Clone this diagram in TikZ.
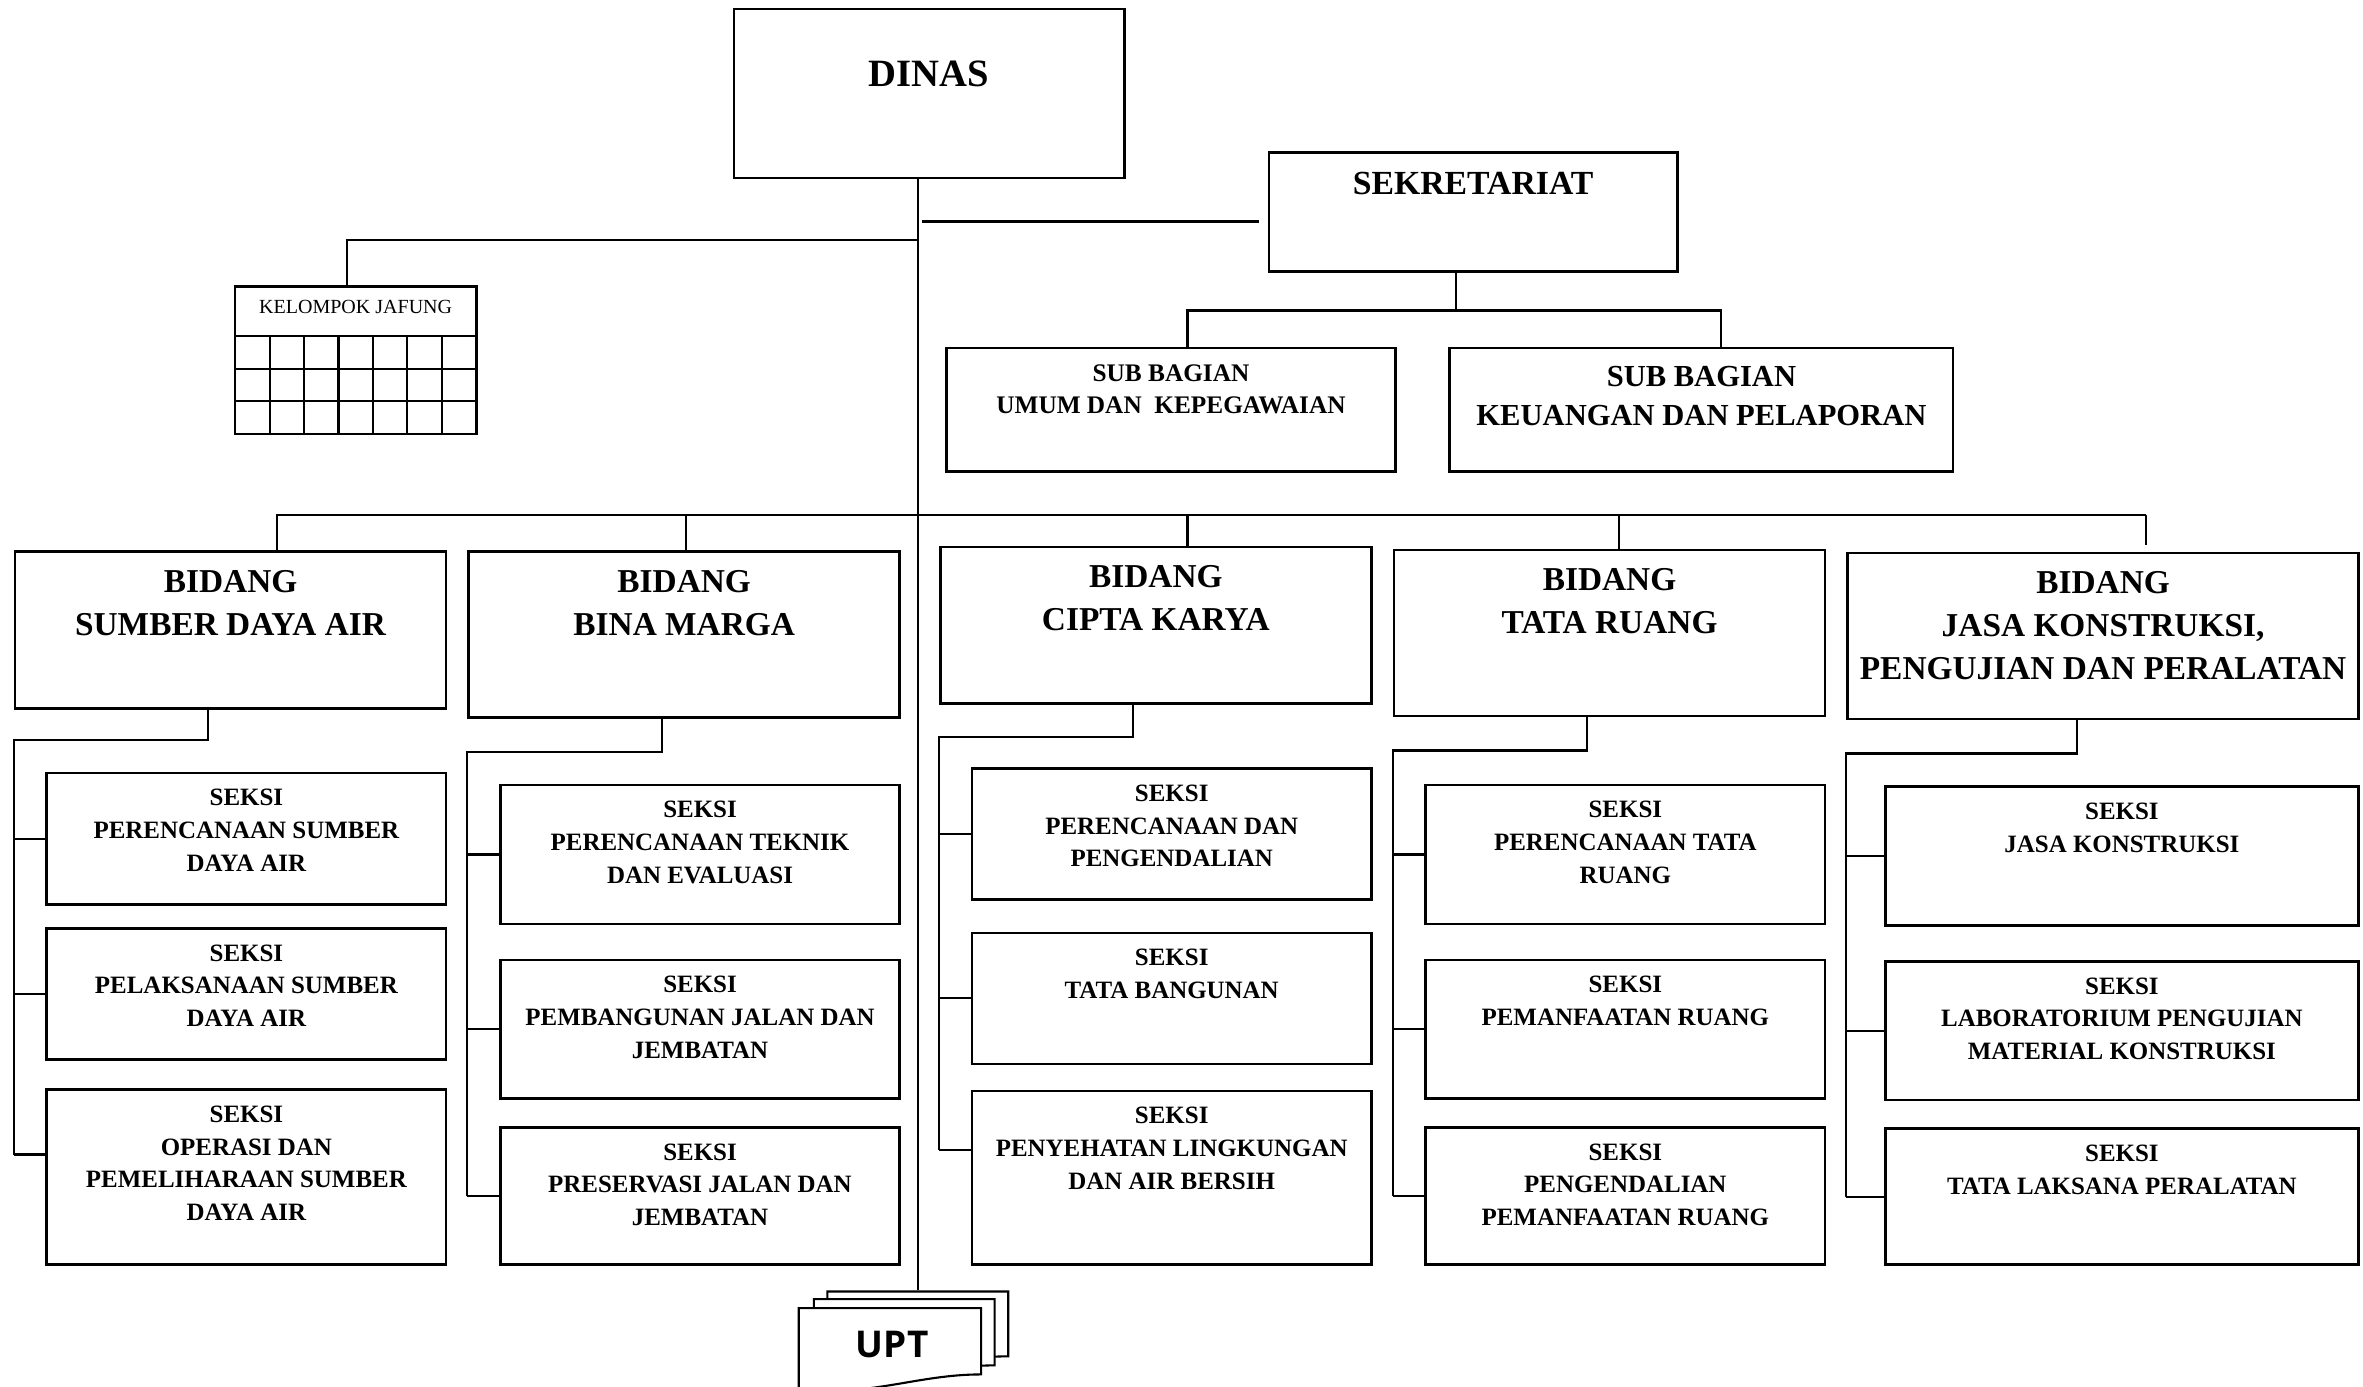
\documentclass[tikz,border=0pt]{standalone}
\usepackage{fontspec}
\setmainfont{Liberation Serif}
\newfontfamily\uptfont{Open Sans}
\usepackage{tikz}
\usetikzlibrary{positioning}
\usetikzlibrary{fit}
\tikzstyle{org_box}=[draw=black, line width=0.75pt, inner sep=0pt]
\tikzstyle{dinas_text}=[font=\fontsize{11}{13}\selectfont\bfseries, align=center, inner sep=0pt]
\tikzstyle{sekr_text}=[font=\fontsize{9.6}{12}\selectfont\bfseries, align=center, inner sep=0pt]
\tikzstyle{bidang_text}=[font=\fontsize{9.5}{12.2}\selectfont\bfseries, align=center, inner sep=0pt]
\tikzstyle{subk_text}=[font=\fontsize{8.7}{11.1}\selectfont\bfseries, align=center, inner sep=0pt]
\tikzstyle{seksi_text}=[font=\fontsize{7.1}{9.3}\selectfont\bfseries, align=center, inner sep=0pt]
\tikzstyle{jafung_text}=[font=\fontsize{5.7}{7}\selectfont, inner sep=0pt]
\tikzstyle{upt_text}=[font=\fontsize{10.5}{12}\uptfont\bfseries, inner sep=0pt]

\begin{document}
\begin{tikzpicture}[x=0.01507cm, y=-0.01507cm, line width=0.6pt]
\useasboundingbox (0,0) rectangle (1568,920);
% pimpinan dan sekretariat
\node[org_box, fit={(487,6) (746,118)}] (dinas) {};
\node[dinas_text, below=14.8pt of dinas.north] (dinast) {DINAS};
\node[org_box, fit={(842,101) (1113,180)}] (sekr) {};
\node[sekr_text, below=5.8pt of sekr.north] (sekrt) {SEKRETARIAT};
\node[org_box, fit={(628,231) (926,313)}] (subu) {};
\node[seksi_text, font=\fontsize{7.2}{9}\selectfont\bfseries, below=4.9pt of subu.north] (subut) {SUB BAGIAN\\UMUM DAN\ \ KEPEGAWAIAN};
\node[org_box, fit={(962,231) (1296,313)}] (subk) {};
\node[subk_text, below=5.3pt of subk.north] (subkt) {SUB BAGIAN\\KEUANGAN DAN PELAPORAN};
% kelompok jabatan fungsional
\node[org_box, fit={(156,190) (316,288)}] (jaf) {};
\node[jafung_text, below=4.1pt of jaf.north] (jaft) {KELOMPOK JAFUNG};
\draw (156,223) -- (316,223) (156,245) -- (316,245) (156,266) -- (316,266);
\draw (178.9,223) -- (178.9,288) (201.7,223) -- (201.7,288) (224.6,223) -- (224.6,288)
      (247.4,223) -- (247.4,288) (270.3,223) -- (270.3,288) (293.1,223) -- (293.1,288);
% bidang
\node[org_box, fit={(10,366) (296,470)}] (bid1) {};
\node[bidang_text, below=5.4pt of bid1.north] (bid1t) {BIDANG\\SUMBER DAYA AIR};
\node[org_box, fit={(311,366) (597,476)}] (bid2) {};
\node[bidang_text, below=5.4pt of bid2.north] (bid2t) {BIDANG\\BINA MARGA};
\node[org_box, fit={(624,363) (910,467)}] (bid3) {};
\node[bidang_text, below=5.4pt of bid3.north] (bid3t) {BIDANG\\CIPTA KARYA};
\node[org_box, fit={(925,365) (1211,475)}] (bid4) {};
\node[bidang_text, below=5.4pt of bid4.north] (bid4t) {BIDANG\\TATA RUANG};
\node[org_box, fit={(1226,367) (1565,477)}] (bid5) {};
\node[bidang_text, below=5.4pt of bid5.north] (bid5t) {BIDANG\\JASA KONSTRUKSI,\\PENGUJIAN DAN PERALATAN};
% seksi
\node[org_box, fit={(31,513) (296,600)}] (sek1a) {};
\node[seksi_text, below=4.7pt of sek1a.north] (sek1at) {SEKSI\\PERENCANAAN SUMBER\\DAYA AIR};
\node[org_box, fit={(31,616) (296,703)}] (sek1b) {};
\node[seksi_text, below=4.7pt of sek1b.north] (sek1bt) {SEKSI\\PELAKSANAAN SUMBER\\DAYA AIR};
\node[org_box, fit={(31,723) (296,839)}] (sek1c) {};
\node[seksi_text, below=4.7pt of sek1c.north] (sek1ct) {SEKSI\\OPERASI DAN\\PEMELIHARAAN SUMBER\\DAYA AIR};
\node[org_box, fit={(332,521) (597,613)}] (sek2a) {};
\node[seksi_text, below=4.7pt of sek2a.north] (sek2at) {SEKSI\\PERENCANAAN TEKNIK\\DAN EVALUASI};
\node[org_box, fit={(332,637) (597,729)}] (sek2b) {};
\node[seksi_text, below=4.7pt of sek2b.north] (sek2bt) {SEKSI\\PEMBANGUNAN JALAN DAN\\JEMBATAN};
\node[org_box, fit={(332,748) (597,839)}] (sek2c) {};
\node[seksi_text, below=4.7pt of sek2c.north] (sek2ct) {SEKSI\\PRESERVASI JALAN DAN\\JEMBATAN};
\node[org_box, fit={(645,510) (910,597)}] (sek3a) {};
\node[seksi_text, below=4.7pt of sek3a.north] (sek3at) {SEKSI\\PERENCANAAN DAN\\PENGENDALIAN};
\node[org_box, fit={(645,619) (910,706)}] (sek3b) {};
\node[seksi_text, below=4.7pt of sek3b.north] (sek3bt) {SEKSI\\TATA BANGUNAN};
\node[org_box, fit={(645,724) (910,839)}] (sek3c) {};
\node[seksi_text, below=4.7pt of sek3c.north] (sek3ct) {SEKSI\\PENYEHATAN LINGKUNGAN\\DAN AIR BERSIH};
\node[org_box, fit={(946,521) (1211,613)}] (sek4a) {};
\node[seksi_text, below=4.7pt of sek4a.north] (sek4at) {SEKSI\\PERENCANAAN TATA\\RUANG};
\node[org_box, fit={(946,637) (1211,729)}] (sek4b) {};
\node[seksi_text, below=4.7pt of sek4b.north] (sek4bt) {SEKSI\\PEMANFAATAN RUANG};
\node[org_box, fit={(946,748) (1211,839)}] (sek4c) {};
\node[seksi_text, below=4.7pt of sek4c.north] (sek4ct) {SEKSI\\PENGENDALIAN\\PEMANFAATAN RUANG};
\node[org_box, fit={(1251,522) (1565,614)}] (sek5a) {};
\node[seksi_text, below=4.7pt of sek5a.north] (sek5at) {SEKSI\\JASA KONSTRUKSI};
\node[org_box, fit={(1251,638) (1565,730)}] (sek5b) {};
\node[seksi_text, below=4.7pt of sek5b.north] (sek5bt) {SEKSI\\LABORATORIUM PENGUJIAN\\MATERIAL KONSTRUKSI};
\node[org_box, fit={(1251,749) (1565,839)}] (sek5c) {};
\node[seksi_text, below=4.7pt of sek5c.north] (sek5ct) {SEKSI\\TATA LAKSANA PERALATAN};
% upt
\node[fit={(530,857) (669,920)}, inner sep=0pt] (upt) {};
\filldraw[fill=white] (549,857) -- (669,857) -- (669,900) .. controls (628,900) and (598,914) .. (549,911) -- cycle;
\filldraw[fill=white] (540,862) -- (660,862) -- (660,906) .. controls (619,906) and (589,920) .. (540,917) -- cycle;
\filldraw[fill=white] (530,868) -- (651,868) -- (651,912) .. controls (610,912) and (580,926) .. (530,923) -- cycle;
\node[upt_text] (uptt) at (592,892) {UPT};
% garis
\coordinate (tr) at (609,118);
\coordinate (sj) at (612,147);
\coordinate (jj) at (609,159);
\coordinate (jd) at (230,159);
\coordinate (sb) at (966,206);
\coordinate (sbl) at (788,206);
\coordinate (sbr) at (1142,206);
\coordinate (u1) at (184,342);
\coordinate (u2) at (455,342);
\coordinate (u3) at (788,342);
\coordinate (u4) at (1074,342);
\coordinate (u5) at (1424,342);
\coordinate (d1) at (138,491);
\coordinate (d2) at (439,499);
\coordinate (d3) at (752,489);
\coordinate (d4) at (1053,498);
\coordinate (d5) at (1378,500);
\coordinate (k1c) at ([yshift=6.4pt]sek1c.west);
\coordinate (k3c) at ([yshift=7.9pt]sek3c.west);
\draw (dinas.south -| tr) -- (upt.north -| tr);
\draw[shorten >=2.5pt] (sj) -- (sj -| sekr.west);
\draw (jj) -- (jd) -- (jd |- jaf.north);
\draw (sb |- sekr.south) -- (sb);
\draw (sbl |- subu.north) -- (sbl) -- (sbr) -- (sbr |- subk.north);
\draw (u1 |- bid1.north) -- (u1) -- (u5);
\draw[shorten >=2pt] (u5) -- (u5 |- bid5.north);
\draw (u2) -- (u2 |- bid2.north);
\draw (u3) -- (u3 |- bid3.north);
\draw (u4) -- (u4 |- bid4.north);
\draw (d1 |- bid1.south) -- (d1) -- (d1 -| bid1.west) -- (k1c -| bid1.west);
\draw (sek1a.west -| bid1.west) -- (sek1a.west);
\draw (sek1b.west -| bid1.west) -- (sek1b.west);
\draw (k1c -| bid1.west) -- (k1c);
\draw (d2 |- bid2.south) -- (d2) -- (d2 -| bid2.west) -- (sek2c.west -| bid2.west);
\draw (sek2a.west -| bid2.west) -- (sek2a.west);
\draw (sek2b.west -| bid2.west) -- (sek2b.west);
\draw (sek2c.west -| bid2.west) -- (sek2c.west);
\draw (d3 |- bid3.south) -- (d3) -- (d3 -| bid3.west) -- (k3c -| bid3.west);
\draw (sek3a.west -| bid3.west) -- (sek3a.west);
\draw (sek3b.west -| bid3.west) -- (sek3b.west);
\draw (k3c -| bid3.west) -- (k3c);
\draw (d4 |- bid4.south) -- (d4) -- (d4 -| bid4.west) -- (sek4c.west -| bid4.west);
\draw (sek4a.west -| bid4.west) -- (sek4a.west);
\draw (sek4b.west -| bid4.west) -- (sek4b.west);
\draw (sek4c.west -| bid4.west) -- (sek4c.west);
\draw (d5 |- bid5.south) -- (d5) -- (d5 -| bid5.west) -- (sek5c.west -| bid5.west);
\draw (sek5a.west -| bid5.west) -- (sek5a.west);
\draw (sek5b.west -| bid5.west) -- (sek5b.west);
\draw (sek5c.west -| bid5.west) -- (sek5c.west);
\end{tikzpicture}
\end{document}
